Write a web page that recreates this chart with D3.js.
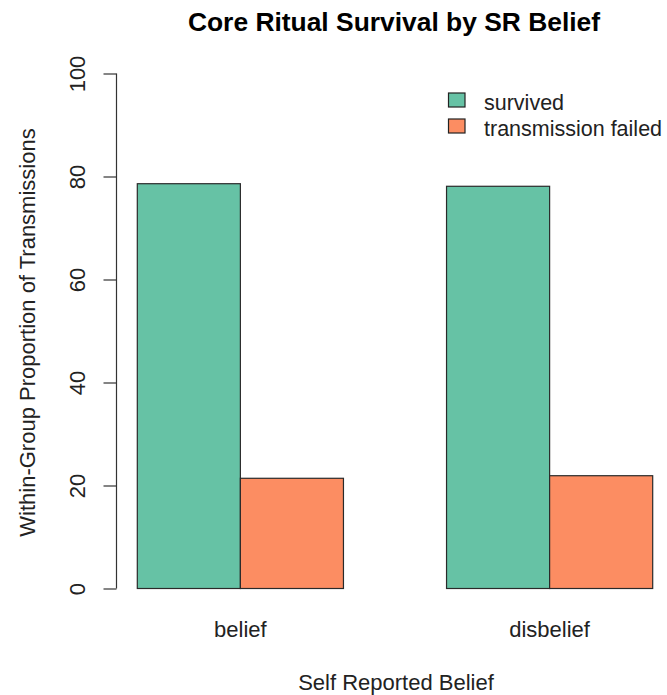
<!DOCTYPE html>
<html><head><meta charset="utf-8">
<script src="https://cdn.jsdelivr.net/npm/d3@7"></script>
<style>body{margin:0;background:#fff}svg{display:block;font-family:"Liberation Sans",Arial,sans-serif}</style>
</head><body>
<svg id="c" width="667" height="695"></svg>
<script>
const groups = ["belief", "disbelief"];
const seriesNames = ["survived", "transmission failed"];
const survived = [78.6, 78.1];
const failed = [21.4, 21.9];
const colors = ["#66C2A5", "#FC8D62"];
const yTicks = [0, 20, 40, 60, 80, 100];

const svg = d3.select("#c");
const y = d3.scaleLinear().domain([0, 100]).range([588.5, 73.5]);
const xg = d3.scaleBand().domain(groups).range([137.3, 652.7]).paddingInner(1/3).paddingOuter(0);
const xs = d3.scaleBand().domain(seriesNames).range([0, xg.bandwidth()]);

const data = groups.map((g, i) => ({g, vals: [survived[i], failed[i]]}));
data.forEach(d => {
  d.vals.forEach((v, j) => {
    svg.append("rect")
      .attr("x", xg(d.g) + xs(seriesNames[j]))
      .attr("y", y(v))
      .attr("width", xs.bandwidth())
      .attr("height", y(0) - y(v))
      .attr("fill", colors[j])
      .attr("stroke", "#2a2a2a").attr("stroke-width", 1.2);
  });
});

// y axis
const ax = svg.append("g").attr("transform", "translate(116.5,0)")
  .call(d3.axisLeft(y).tickValues(yTicks).tickSize(13).tickPadding(0).tickFormat(d3.format("d")));
ax.select(".domain").attr("stroke", "#333").attr("stroke-width", 1.2).attr("d", `M0,${y(0)}V${y(100)}`);
ax.selectAll(".tick line").attr("stroke", "#333").attr("stroke-width", 1.2);
ax.selectAll(".tick text").remove();
ax.selectAll(".tick").append("text")
  .attr("transform", "translate(-31.5,0) rotate(-90)")
  .attr("text-anchor", "middle")
  .attr("fill", "#222").attr("font-size", 22)
  .text(d => d);

// x category labels
groups.forEach(g => {
  svg.append("text").attr("x", xg(g) + xg.bandwidth()/2).attr("y", 637)
    .attr("text-anchor", "middle").attr("font-size", 22).attr("fill", "#222").text(g);
});

// titles
svg.append("text").attr("x", 394).attr("y", 31).attr("text-anchor", "middle")
  .attr("font-size", 26.4).attr("font-weight", "bold").attr("fill", "#000")
  .text("Core Ritual Survival by SR Belief");
svg.append("text").attr("x", 396).attr("y", 690).attr("text-anchor", "middle")
  .attr("font-size", 22).attr("fill", "#222").text("Self Reported Belief");
svg.append("text").attr("transform", "translate(35,332.5) rotate(-90)").attr("text-anchor", "middle")
  .attr("font-size", 22).attr("fill", "#222").text("Within-Group Proportion of Transmissions");

// legend
seriesNames.forEach((s, j) => {
  const ly = 93 + j * 26;
  svg.append("rect").attr("x", 448.5).attr("y", ly).attr("width", 16.5).attr("height", 14)
    .attr("fill", colors[j]).attr("stroke", "#222").attr("stroke-width", 1.2);
  svg.append("text").attr("x", 484).attr("y", ly + 17).attr("font-size", 21.5).attr("fill", "#222").text(s);
});
</script>
</body></html>
